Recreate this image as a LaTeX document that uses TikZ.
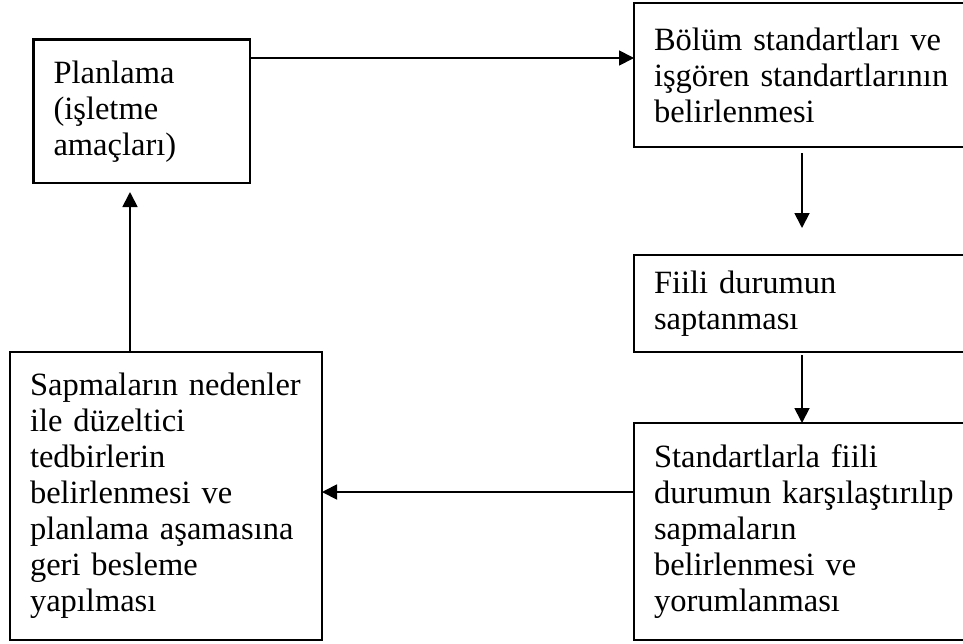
\documentclass[tikz,border=0pt]{standalone}
\usepackage{fontspec}
\setmainfont{Liberation Serif}
\usetikzlibrary{arrows.meta}
\begin{document}
\begin{tikzpicture}[x=1pt,y=-1pt,
  box/.style={draw, line width=2.2pt, align=left, inner xsep=20pt, inner ysep=0pt,
    outer sep=0pt, anchor=north west, font=\fontsize{32.5}{36}\selectfont},
  arr/.style={line width=1.8pt, -{Triangle[length=15pt,width=15pt]}}]
\useasboundingbox (0,0) rectangle (963,643);
\clip (0,0) rectangle (963,643);
\node[box, minimum width=216.5pt, minimum height=143.5pt, text width=176.5pt] (b1) at (33.5,39.5)
  {Planlama\\(işletme\\amaçları)};
\node[box, minimum width=346pt, minimum height=144pt, text width=306pt] (b2) at (634,3)
  {Bölüm standartları ve\\işgören standartlarının\\belirlenmesi};
\node[box, minimum width=346pt, minimum height=97pt, text width=306pt] (b3) at (634,255)
  {Fiili durumun\\saptanması};
\node[box, minimum width=346pt, minimum height=217pt, text width=306pt] (b4) at (634,423)
  {Standartlarla fiili\\durumun karşılaştırılıp\\sapmaların\\belirlenmesi ve\\yorumlanması};
\node[box, minimum width=312pt, minimum height=288pt, text width=272pt] (b5) at (10,352)
  {Sapmaların nedenler\\ile düzeltici\\tedbirlerin\\belirlenmesi ve\\planlama aşamasına\\geri besleme\\yapılması};
\draw[arr] ([yshift=-18.5pt]b1.north east) -- ([yshift=-55pt]b2.north west);
\draw[arr] ([xshift=168pt,yshift=-6pt]b2.south west) -- ([xshift=168pt,yshift=27pt]b3.north west);
\draw[arr] ([xshift=168pt,yshift=-3pt]b3.south west) -- ([xshift=168pt]b4.north west);
\draw[arr] ([yshift=-69pt]b4.north west) -- ([yshift=-140pt]b5.north east);
\draw[arr] ([xshift=120pt]b5.north west) -- ([xshift=96.5pt,yshift=-9pt]b1.south west);
\end{tikzpicture}
\end{document}
